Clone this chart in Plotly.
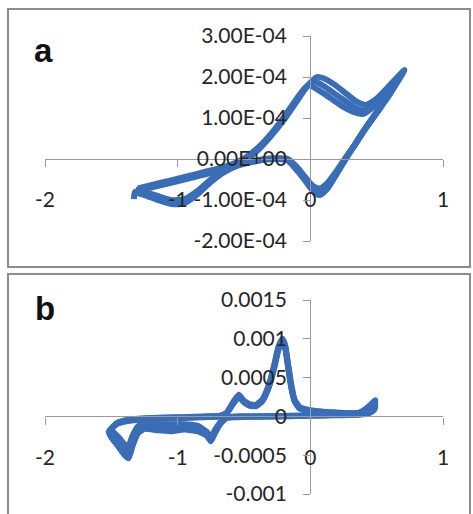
import plotly.graph_objects as go

# ---------------- data ----------------
X_TICKS = [-2, -1, 0, 1]
X_TICK_TEXT = ["-2", "-1", "0", "1"]

A_Y_TICKS = [-2e-4, -1e-4, 0, 1e-4, 2e-4, 3e-4]
A_Y_TICK_TEXT = ["-2.00E-04", "-1.00E-04", "0.00E+00", "1.00E-04", "2.00E-04", "3.00E-04"]

B_Y_TICKS = [-0.001, -0.0005, 0, 0.0005, 0.001, 0.0015]
B_Y_TICK_TEXT = ["-0.001", "-0.0005", "0", "0.0005", "0.001", "0.0015"]

# Panel a: three CV cycles (potential V, current A)
A_V1 = [-1.33, -1.32, -1.2, -1.05, -0.9, -0.75, -0.6, -0.5, -0.41, -0.3, -0.2, -0.1, -0.03, 0.05, 0.1, 0.18, 0.26,
        0.34, 0.42, 0.5, 0.6, 0.71,
        0.6, 0.5, 0.41, 0.34, 0.28, 0.2, 0.13, 0.07, 0.02, -0.04, -0.1, -0.17, -0.25, -0.35, -0.45, -0.55, -0.65,
        -0.75, -0.85, -0.95, -1.05, -1.15, -1.25, -1.32]
A_I1 = [-0.98e-4, -0.8e-4, -0.7e-4, -0.58e-4, -0.46e-4, -0.34e-4, -0.2e-4, -0.05e-4, 0.17e-4, 0.55e-4, 0.95e-4,
        1.42e-4, 1.75e-4, 2.0e-4, 1.97e-4, 1.82e-4, 1.62e-4, 1.42e-4, 1.32e-4, 1.47e-4, 1.8e-4, 2.17e-4,
        1.62e-4, 1.15e-4, 0.73e-4, 0.38e-4, 0.07e-4, -0.36e-4, -0.72e-4, -0.88e-4, -0.78e-4, -0.52e-4, -0.28e-4,
        -0.04e-4, 0.0, -0.02e-4, -0.08e-4, -0.16e-4, -0.32e-4, -0.56e-4, -0.86e-4, -1.08e-4, -1.1e-4, -1.0e-4,
        -0.88e-4, -0.82e-4]

A_V2 = [-1.31, -1.2, -1.05, -0.9, -0.75, -0.6, -0.5, -0.41, -0.3, -0.2, -0.1, -0.04, 0.02, 0.1, 0.18, 0.26, 0.34,
        0.41, 0.5, 0.6, 0.7,
        0.6, 0.5, 0.41, 0.34, 0.28, 0.2, 0.13, 0.07, 0.02, -0.04, -0.1, -0.17, -0.25, -0.35, -0.45, -0.55, -0.65,
        -0.75, -0.85, -0.95, -1.05, -1.15, -1.25, -1.31]
A_I2 = [-0.76e-4, -0.67e-4, -0.55e-4, -0.43e-4, -0.31e-4, -0.17e-4, -0.02e-4, 0.2e-4, 0.58e-4, 0.98e-4, 1.44e-4,
        1.72e-4, 1.9e-4, 1.78e-4, 1.6e-4, 1.42e-4, 1.25e-4, 1.18e-4, 1.38e-4, 1.73e-4, 2.12e-4,
        1.6e-4, 1.13e-4, 0.72e-4, 0.37e-4, 0.08e-4, -0.32e-4, -0.65e-4, -0.8e-4, -0.72e-4, -0.48e-4, -0.24e-4,
        -0.02e-4, 0.01e-4, -0.01e-4, -0.07e-4, -0.15e-4, -0.3e-4, -0.53e-4, -0.82e-4, -1.03e-4, -1.05e-4,
        -0.95e-4, -0.84e-4, -0.78e-4]

A_V3 = [-1.3, -1.2, -1.05, -0.9, -0.75, -0.6, -0.5, -0.41, -0.3, -0.2, -0.1, -0.05, -0.01, 0.1, 0.18, 0.26, 0.33,
        0.4, 0.5, 0.6, 0.69,
        0.6, 0.5, 0.41, 0.34, 0.28, 0.2, 0.13, 0.07, 0.02, -0.04, -0.1, -0.17, -0.25, -0.35, -0.45, -0.55, -0.65,
        -0.75, -0.85, -0.95, -1.05, -1.15, -1.25, -1.3]
A_I3 = [-0.72e-4, -0.64e-4, -0.52e-4, -0.4e-4, -0.28e-4, -0.14e-4, 0.01e-4, 0.23e-4, 0.6e-4, 1.02e-4, 1.48e-4,
        1.7e-4, 1.8e-4, 1.6e-4, 1.42e-4, 1.25e-4, 1.14e-4, 1.1e-4, 1.34e-4, 1.69e-4, 2.08e-4,
        1.58e-4, 1.12e-4, 0.71e-4, 0.36e-4, 0.1e-4, -0.28e-4, -0.58e-4, -0.72e-4, -0.66e-4, -0.44e-4, -0.2e-4,
        0.0, 0.02e-4, 0.0, -0.06e-4, -0.14e-4, -0.28e-4, -0.5e-4, -0.78e-4, -0.98e-4, -1.0e-4, -0.9e-4,
        -0.8e-4, -0.74e-4]

# Panel b: three CV cycles (potential V, current A)
B_V1 = [-1.52, -1.46, -1.38, -1.25, -1.1, -0.95, -0.8, -0.68, -0.63, -0.59, -0.54, -0.5, -0.46, -0.41, -0.36, -0.31,
        -0.27, -0.24, -0.21, -0.19, -0.17, -0.145, -0.12, -0.08, 0.0, 0.1, 0.2, 0.3, 0.37, 0.42, 0.46, 0.49,
        0.48, 0.44, 0.38, 0.2, 0.0, -0.2, -0.4, -0.55, -0.63, -0.68, -0.72, -0.75, -0.78, -0.85, -0.95, -1.05,
        -1.15, -1.25, -1.3, -1.34, -1.37, -1.4, -1.45, -1.5, -1.52]
B_I1 = [-0.2e-3, -0.1e-3, -0.06e-3, -0.04e-3, -0.03e-3, -0.02e-3, -0.01e-3, 0.0, 0.04e-3, 0.16e-3, 0.28e-3, 0.2e-3,
        0.16e-3, 0.15e-3, 0.22e-3, 0.42e-3, 0.68e-3, 0.9e-3, 1.0e-3, 0.92e-3, 0.7e-3, 0.42e-3, 0.22e-3, 0.12e-3,
        0.08e-3, 0.06e-3, 0.05e-3, 0.04e-3, 0.05e-3, 0.1e-3, 0.16e-3, 0.21e-3,
        0.12e-3, 0.06e-3, 0.03e-3, 0.02e-3, 0.01e-3, 0.0, 0.0, -0.01e-3, -0.02e-3, -0.1e-3, -0.22e-3, -0.32e-3,
        -0.25e-3, -0.19e-3, -0.17e-3, -0.19e-3, -0.18e-3, -0.16e-3, -0.22e-3, -0.38e-3, -0.54e-3, -0.5e-3,
        -0.38e-3, -0.27e-3, -0.2e-3]

B_V2 = [-1.51, -1.46, -1.38, -1.25, -1.1, -0.95, -0.8, -0.68, -0.63, -0.59, -0.54, -0.5, -0.46, -0.41, -0.36, -0.31,
        -0.27, -0.24, -0.21, -0.19, -0.17, -0.145, -0.12, -0.08, 0.0, 0.1, 0.2, 0.3, 0.37, 0.42, 0.46, 0.49,
        0.48, 0.44, 0.38, 0.2, 0.0, -0.2, -0.4, -0.55, -0.63, -0.68, -0.72, -0.75, -0.78, -0.85, -0.95, -1.05,
        -1.15, -1.25, -1.3, -1.34, -1.37, -1.4, -1.45, -1.49, -1.51]
B_I2 = [-0.18e-3, -0.09e-3, -0.05e-3, -0.03e-3, -0.02e-3, -0.015e-3, -0.005e-3, 0.005e-3, 0.04e-3, 0.15e-3,
        0.26e-3, 0.19e-3, 0.15e-3, 0.14e-3, 0.21e-3, 0.4e-3, 0.66e-3, 0.88e-3, 0.98e-3, 0.9e-3, 0.68e-3, 0.4e-3,
        0.21e-3, 0.11e-3, 0.07e-3, 0.05e-3, 0.045e-3, 0.04e-3, 0.045e-3, 0.08e-3, 0.13e-3, 0.17e-3,
        0.1e-3, 0.05e-3, 0.03e-3, 0.02e-3, 0.01e-3, 0.005e-3, 0.0, -0.005e-3, -0.015e-3, -0.09e-3, -0.2e-3,
        -0.29e-3, -0.22e-3, -0.16e-3, -0.13e-3, -0.14e-3, -0.14e-3, -0.12e-3, -0.17e-3, -0.3e-3, -0.45e-3,
        -0.42e-3, -0.32e-3, -0.24e-3, -0.18e-3]

B_V3 = [-1.5, -1.45, -1.38, -1.25, -1.1, -0.95, -0.8, -0.68, -0.63, -0.59, -0.54, -0.5, -0.46, -0.41, -0.36, -0.31,
        -0.27, -0.24, -0.21, -0.19, -0.17, -0.145, -0.12, -0.08, 0.0, 0.1, 0.2, 0.3, 0.37, 0.42, 0.46, 0.49,
        0.48, 0.44, 0.38, 0.2, 0.0, -0.2, -0.4, -0.55, -0.63, -0.68, -0.72, -0.75, -0.78, -0.85, -0.95, -1.05,
        -1.15, -1.25, -1.3, -1.34, -1.37, -1.4, -1.44, -1.48, -1.5]
B_I3 = [-0.16e-3, -0.08e-3, -0.045e-3, -0.025e-3, -0.015e-3, -0.01e-3, 0.0, 0.01e-3, 0.05e-3, 0.14e-3, 0.25e-3,
        0.18e-3, 0.14e-3, 0.13e-3, 0.2e-3, 0.39e-3, 0.64e-3, 0.86e-3, 0.96e-3, 0.88e-3, 0.66e-3, 0.38e-3, 0.2e-3,
        0.1e-3, 0.065e-3, 0.045e-3, 0.04e-3, 0.035e-3, 0.04e-3, 0.06e-3, 0.1e-3, 0.13e-3,
        0.08e-3, 0.04e-3, 0.025e-3, 0.015e-3, 0.01e-3, 0.005e-3, 0.0, 0.0, -0.01e-3, -0.08e-3, -0.18e-3, -0.27e-3,
        -0.2e-3, -0.12e-3, -0.1e-3, -0.1e-3, -0.1e-3, -0.09e-3, -0.13e-3, -0.25e-3, -0.38e-3, -0.36e-3,
        -0.28e-3, -0.21e-3, -0.16e-3]

A_CYCLES = [(A_V1, A_I1), (A_V2, A_I2), (A_V3, A_I3)]
B_CYCLES = [(B_V1, B_I1), (B_V2, B_I2), (B_V3, B_I3)]

# ---------------- styling ----------------
W, H = 473, 514
LINE_COLOR = "#3A6DB5"
AXIS_COLOR = "#9A9A9A"
FONT = "Lato, Liberation Sans, sans-serif"
TICK_FONT = dict(family=FONT, size=21, color="#262626")

X_RANGE = [-2, 1]
A_Y_RANGE = [-2e-4, 3e-4]
B_Y_RANGE = [-0.001, 0.0015]

XDOM = [45 / W, 443 / W]
A_YDOM = [1 - 241 / H, 1 - 36 / H]
B_YDOM = [1 - 494 / H, 1 - 300 / H]


def frac(val, rng, dom):
    return dom[0] + (val - rng[0]) / (rng[1] - rng[0]) * (dom[1] - dom[0])


fig = go.Figure()

for v, i in A_CYCLES:
    fig.add_trace(go.Scatter(x=v, y=i, mode="lines", xaxis="x", yaxis="y",
                             line=dict(color=LINE_COLOR, width=6, shape="spline", smoothing=0.6),
                             showlegend=False, hoverinfo="skip"))
for v, i in B_CYCLES:
    fig.add_trace(go.Scatter(x=v, y=i, mode="lines", xaxis="x2", yaxis="y2",
                             line=dict(color=LINE_COLOR, width=6, shape="spline", smoothing=0.5),
                             showlegend=False, hoverinfo="skip"))

common_x = dict(range=X_RANGE, domain=XDOM, tickvals=X_TICKS, ticktext=X_TICK_TEXT,
                showline=True, linecolor=AXIS_COLOR, linewidth=1.3, ticks="outside", ticklen=7,
                tickcolor=AXIS_COLOR, tickwidth=1.3, showgrid=False, zeroline=False, automargin=False,
                tickfont=TICK_FONT, ticklabelstandoff=15, anchor="free", fixedrange=True)
common_y = dict(showline=True, linecolor=AXIS_COLOR, linewidth=1.3, ticks="outside", ticklen=7,
                tickcolor=AXIS_COLOR, tickwidth=1.3, showgrid=False, zeroline=False, automargin=False,
                tickfont=TICK_FONT, ticklabelstandoff=12, anchor="free", fixedrange=True,
                position=frac(0, X_RANGE, XDOM))

fig.update_layout(
    width=W, height=H, autosize=False,
    margin=dict(l=0, r=0, t=0, b=0, pad=0, autoexpand=False),
    paper_bgcolor="white", plot_bgcolor="white",
    xaxis=dict(**common_x, position=frac(0, A_Y_RANGE, A_YDOM)),
    yaxis=dict(**common_y, range=A_Y_RANGE, domain=A_YDOM, tickvals=A_Y_TICKS, ticktext=A_Y_TICK_TEXT),
    xaxis2=dict(**common_x, position=frac(0, B_Y_RANGE, B_YDOM)),
    yaxis2=dict(**common_y, range=B_Y_RANGE, domain=B_YDOM, tickvals=B_Y_TICKS, ticktext=B_Y_TICK_TEXT),
    shapes=[
        dict(type="rect", xref="paper", yref="paper", x0=8 / W, x1=470 / W, y0=1 - 267 / H, y1=1 - 9 / H,
             line=dict(color="#8C8C8C", width=2), layer="below"),
        dict(type="rect", xref="paper", yref="paper", x0=8 / W, x1=470 / W, y0=-0.05, y1=1 - 274 / H,
             line=dict(color="#8C8C8C", width=2), layer="below"),
    ],
    annotations=[
        dict(text="<b>a</b>", xref="paper", yref="paper", x=43 / W, y=1 - 51 / H, showarrow=False,
             font=dict(family="Liberation Sans, Arial, sans-serif", size=33, color="#111111"),
             xanchor="center", yanchor="middle"),
        dict(text="<b>b</b>", xref="paper", yref="paper", x=45 / W, y=1 - 308 / H, showarrow=False,
             font=dict(family="Liberation Sans, Arial, sans-serif", size=33, color="#111111"),
             xanchor="center", yanchor="middle"),
    ],
)

fig.write_html("out.html", config={"displayModeBar": False},
               post_script="document.body.style.margin='0px';document.body.style.overflow='hidden';")
